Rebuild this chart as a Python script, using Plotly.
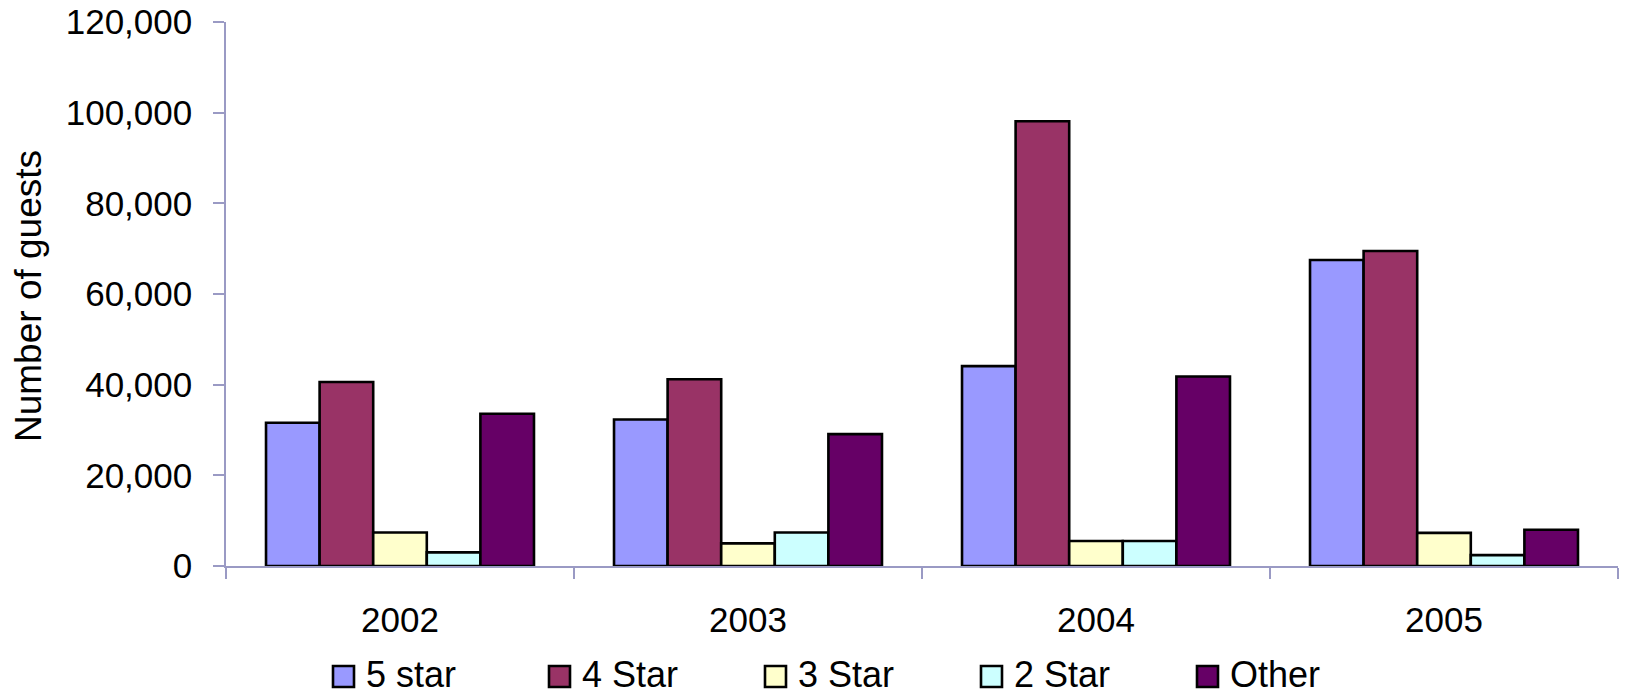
import plotly.graph_objects as go

# Guests per hotel category, 2002-2005
years = ["2002", "2003", "2004", "2005"]
series_names = ["5 star", "4 Star", "3 Star", "2 Star", "Other"]
five_star = [31600, 32300, 44100, 67500]
four_star = [40600, 41200, 98100, 69500]
three_star = [7400, 5000, 5500, 7300]
two_star = [3000, 7400, 5500, 2400]
other = [33600, 29100, 41800, 8000]
colors = ["#9999FF", "#993366", "#FFFFCC", "#CCFFFF", "#660066"]

y_ticks = [0, 20000, 40000, 60000, 80000, 100000, 120000]
grid_ticks = [20000, 40000, 60000, 80000, 100000]

values = [five_star, four_star, three_star, two_star, other]

FONT = "Liberation Sans, Arial, sans-serif"
AXIS_COLOR = "#9a9ac4"
GRID_COLOR = "#7c7aa8"

# plot-area geometry in pixels (used to place the legend and title)
W_PX, H_PX = 1627, 694
L, R, T, B = 226, 1618, 22, 566


def px(x):
    return (x - L) / (R - L)


def py(y):
    return (B - y) / (B - T)


fig = go.Figure()
for name, vals, col in zip(series_names, values, colors):
    fig.add_trace(go.Bar(
        x=years, y=vals, name=name,
        marker=dict(color=col, line=dict(color="black", width=2.6)),
        showlegend=False,
    ))

fig.update_layout(
    width=W_PX, height=H_PX,
    margin=dict(l=L, r=W_PX - R, t=T, b=H_PX - B, autoexpand=False),
    paper_bgcolor="white", plot_bgcolor="white",
    barmode="group", bargap=0.23, bargroupgap=0,
    font=dict(family=FONT, color="black"),
    xaxis=dict(
        type="category", tickson="boundaries",
        ticks="outside", ticklen=11, tickcolor=AXIS_COLOR, tickwidth=1.5,
        showline=True, linecolor=AXIS_COLOR, linewidth=1.5,
        showgrid=False, tickfont=dict(size=35, family=FONT),
        ticklabelstandoff=22,
    ),
    yaxis=dict(
        range=[0, 120000], tickvals=y_ticks, tickformat=",",
        ticks="outside", ticklen=11, tickcolor=AXIS_COLOR, tickwidth=1.5,
        showline=True, linecolor=AXIS_COLOR, linewidth=1.5,
        showgrid=False, zeroline=False,
        tickfont=dict(size=35, family=FONT), ticklabelstandoff=14,
    ),
    yaxis2=dict(
        overlaying="y", range=[0, 120000], tickvals=grid_ticks,
        showgrid=True, gridcolor=GRID_COLOR, gridwidth=1.3,
        showticklabels=False, ticks="", showline=False, zeroline=False,
    ),
)

# y-axis title
fig.add_annotation(
    text="Number of guests", textangle=-90,
    xref="paper", yref="paper", x=px(28), y=py(296),
    xanchor="center", yanchor="middle", showarrow=False,
    font=dict(size=37, family=FONT, color="black"),
)

# legend row below the axis
for i, (name, col) in enumerate(zip(series_names, colors)):
    x0 = 333 + i * 216
    fig.add_shape(
        type="rect", xref="paper", yref="paper",
        x0=px(x0), x1=px(x0 + 21), y0=py(687), y1=py(666),
        fillcolor=col, line=dict(color="black", width=2.6),
    )
    fig.add_annotation(
        text=name, xref="paper", yref="paper",
        x=px(x0 + 31), y=py(674.5), xanchor="left", yanchor="middle",
        showarrow=False, font=dict(size=36, family=FONT, color="black"),
    )

fig.write_html("out.html")
